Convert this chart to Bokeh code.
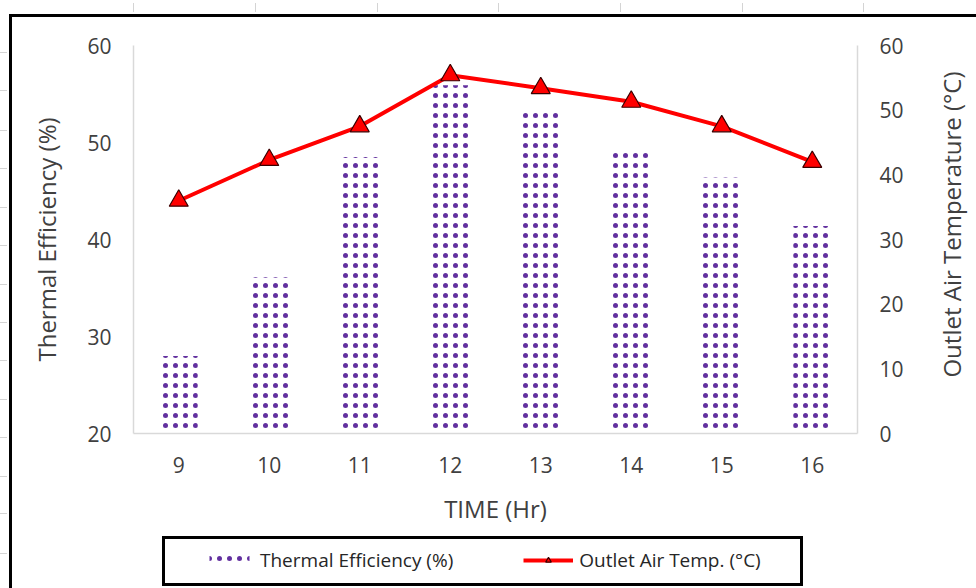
import math
from bokeh.plotting import figure
from bokeh.layouts import column, row
from bokeh.models import (Range1d, LinearAxis, FactorRange, Legend, LegendItem,
                          ColumnDataSource, Label)
from bokeh.embed import file_html
from bokeh.resources import INLINE

# ---------------- data ----------------
hours = ["9", "10", "11", "12", "13", "14", "15", "16"]
efficiency = [28.0, 36.1, 48.5, 55.9, 53.1, 49.2, 46.4, 41.4]      # Thermal Efficiency (%)
outlet_temp = [36.0, 42.3, 47.5, 55.4, 53.4, 51.3, 47.5, 42.0]     # Outlet Air Temp. (°C)
eff_ticks = [20, 30, 40, 50, 60]
temp_ticks = [0, 10, 20, 30, 40, 50, 60]

FONT = "Open Sans"
TXT = "#404040"
AXIS_GRAY = "#d9d9d9"
BAR_STYLE = dict(fill_color="#ffffff", line_color=None, hatch_pattern="dot",
                 hatch_color="#62309f", hatch_scale=10, hatch_weight=3.5)
LINE_STYLE = dict(line_color="#ff0000", line_width=4)
MARK_STYLE = dict(marker="triangle", size=19, fill_color="#ff0000",
                  line_color="#3a0000", line_width=1.2)

# page decoration (outer chart border, legend box, faint sheet ruler marks)
def bar_layer(x, y, w, h, color="#000"):
    return f"linear-gradient({color},{color}) {x}px {y}px / {w}px {h}px no-repeat"

layers = [
    bar_layer(9, 14, 2000, 3), bar_layer(9, 14, 3, 2000),            # outer border
    bar_layer(163, 536, 640, 3), bar_layer(163, 583, 640, 3),        # legend box
    bar_layer(162, 536, 3, 50), bar_layer(800, 536, 3, 50),
]
for xt in [133, 255, 377, 498, 620, 742, 863]:
    layers.append(bar_layer(xt, 3, 1, 9, "#d4d4d4"))
for yt in [52, 90, 130, 168, 207, 245, 284, 322, 360, 399, 437, 476, 513, 553]:
    layers.append(bar_layer(0, yt, 7, 1, "#d4d4d4"))
page_bg = ", ".join(layers) + ", #ffffff"

src = ColumnDataSource(dict(hour=hours, eff=efficiency, temp=outlet_temp))

MAIN_W, MAIN_H = 930, 528
p = figure(width=MAIN_W, height=MAIN_H, x_range=FactorRange(factors=hours),
           y_range=Range1d(20, 60), output_backend="svg", toolbar_location=None,
           min_border_left=133, min_border_right=MAIN_W - 857, min_border_top=45,
           min_border_bottom=MAIN_H - 433, background_fill_color="white",
           border_fill_alpha=0)
p.outline_line_color = None
p.xgrid.visible = False
p.ygrid.visible = False
p.extra_y_ranges = {"temp": Range1d(0, 60)}

bars = p.vbar(x="hour", top="eff", bottom=20, width=0.42, source=src, **BAR_STYLE)
line = p.line(x="hour", y="temp", source=src, y_range_name="temp", **LINE_STYLE)
marks = p.scatter(x="hour", y="temp", source=src, y_range_name="temp", **MARK_STYLE)

def style_axis(ax, label):
    ax.axis_label = label
    ax.axis_line_color = AXIS_GRAY
    ax.axis_line_width = 1.5
    ax.major_tick_line_color = None
    ax.minor_tick_line_color = None
    ax.major_tick_out = 0
    ax.major_tick_in = 0
    ax.major_label_text_font = FONT
    ax.major_label_text_font_size = "21px"
    ax.major_label_text_color = TXT
    ax.axis_label_text_font = FONT
    ax.axis_label_text_font_size = "24px"
    ax.axis_label_text_font_style = "normal"
    ax.axis_label_text_color = TXT

yl = p.yaxis[0]
yl.ticker = eff_ticks
style_axis(yl, "Thermal Efficiency (%)")
yl.major_label_standoff = 22
yl.axis_label_standoff = 21

xa = p.xaxis[0]
style_axis(xa, "TIME (Hr)")
xa.major_label_standoff = 23
xa.axis_label_standoff = 16

yr = LinearAxis(y_range_name="temp", ticker=temp_ticks)
style_axis(yr, None)
yr.major_label_standoff = 22
p.add_layout(yr, "right")

# ---------------- legend strip below the chart ----------------
LEG_H = 588 - MAIN_H
lg = figure(width=MAIN_W, height=LEG_H, x_range=FactorRange(factors=hours),
            y_range=Range1d(1000, 1001), output_backend="svg",
            toolbar_location=None, min_border=0, x_axis_type=None,
            y_axis_type=None, border_fill_alpha=0, background_fill_alpha=0)
lg.outline_line_color = None
lg.xgrid.visible = False
lg.ygrid.visible = False
lbar = lg.vbar(x="hour", top="eff", bottom=20, width=0.42, source=src, **BAR_STYLE)
lline = lg.line(x="hour", y="temp", source=src, **LINE_STYLE)
lmark = lg.scatter(x="hour", y="temp", source=src, **MARK_STYLE)

legend = Legend(items=[LegendItem(label="Thermal Efficiency (%)", renderers=[lbar]),
                       LegendItem(label="Outlet Air Temp. (°C)", renderers=[lline, lmark])],
                orientation="horizontal", location=(71, 15),
                border_line_color=None, background_fill_alpha=0,
                label_text_font=FONT, label_text_font_size="19px",
                label_text_color="#262626", glyph_width=50, glyph_height=14,
                label_standoff=6, spacing=70, padding=4, margin=0)
lg.add_layout(legend, "center")

# ---------------- right-hand axis title (reads bottom to top) ----------------
RT_W = 976 - MAIN_W
rt = figure(width=RT_W, height=588, x_range=Range1d(0, RT_W), y_range=Range1d(588, 0),
            output_backend="svg", toolbar_location=None, min_border=0,
            x_axis_type=None, y_axis_type=None, border_fill_alpha=0,
            background_fill_alpha=0)
rt.outline_line_color = None
rt.xgrid.visible = False
rt.ygrid.visible = False
rt.add_layout(Label(x=RT_W / 2 - 2, y=224, text="Outlet Air Temperature (°C)",
                    angle=math.pi / 2, text_align="center", text_baseline="middle",
                    text_font=FONT, text_font_size="24px", text_color=TXT))

page = row(column(p, lg, spacing=0), rt, spacing=0,
           styles={"background": page_bg})
open("out.html", "w").write(file_html(page, INLINE))
